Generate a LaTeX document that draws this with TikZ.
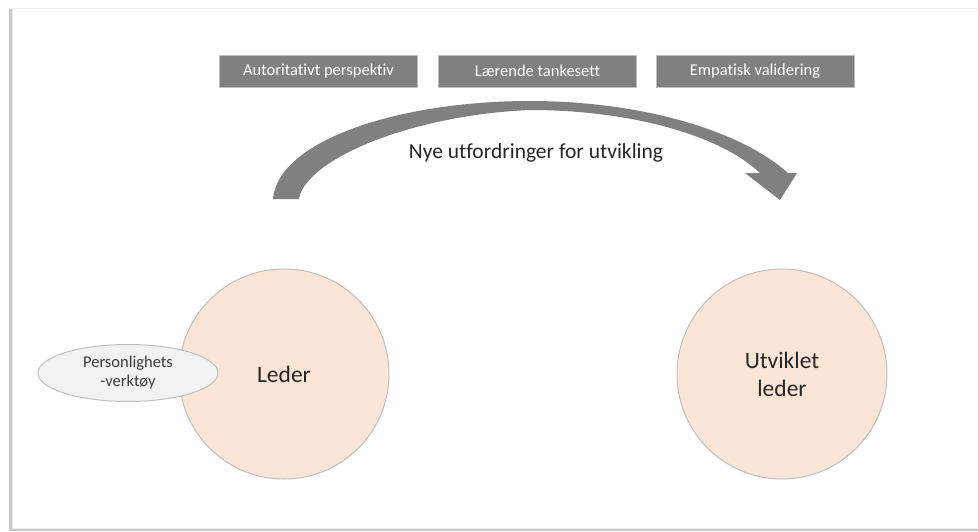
\documentclass[tikz,border=0pt]{standalone}
\usepackage{fontspec}
\setmainfont{Carlito}[Ligatures=NoCommon]
\usetikzlibrary{shapes.geometric}
\definecolor{peach}{HTML}{FBE5D6}
\definecolor{rim}{HTML}{BFBFBF}
\definecolor{boxgray}{HTML}{808080}
\definecolor{pale}{HTML}{F2F2F2}
\definecolor{ink}{HTML}{262626}
\tikzset{
  tag/.style={rectangle, fill=boxgray, draw=rim, line width=0.6pt,
    minimum width=198pt, minimum height=32pt, inner sep=0pt,
    text=white, font=\fontsize{16.5}{18}\selectfont},
  person/.style={circle, fill=peach, draw=rim, line width=1pt,
    minimum size=210pt, inner sep=0pt, align=center, text=ink,
    font=\fontsize{23.5}{28}\selectfont},
  toolbox/.style={ellipse, fill=pale, draw=rim, line width=1pt,
    minimum width=180pt, minimum height=57pt, inner sep=0pt, align=center,
    text=ink!90, font=\fontsize{16.5}{19}\selectfont},
  curvedarrow/.style={fill=boxgray}
}
\begin{document}
\begin{tikzpicture}[x=1pt,y=-1pt]
\useasboundingbox (0,0) rectangle (978,531);
\fill[white] (0,0) rectangle (978,531);
% slide with a soft shadow
\fill[black!22] (9,9) rectangle (990,531);
\fill[white, draw=black!7, line width=1pt] (12,8) rectangle (990,528);

% the three perspectives
\node[tag] (auth) at (318.5,71) {Autoritativt perspektiv};
\node[tag] (learn) at (537.5,71) {Lærende tankesett};
\node[tag] (empat) at (755,71) {Empatisk validering};

% curved development arrow
\coordinate (outbase) at (273,199);
\coordinate (inbase) at (299,199);
\coordinate (wingL) at (745,173);
\coordinate (wingR) at (797,173);
\coordinate (tip) at (780,200);
\fill[curvedarrow] (outbase) .. controls (278,140) and (400,101) .. (530,101)
  .. controls (640,101) and (740,130) .. (788,173) -- (wingR) -- (tip)
  -- (wingL) -- (760,173)
  .. controls (720,135) and (630,110) .. (530,110)
  .. controls (410,115) and (305,160) .. (inbase) -- cycle;
\node[text=ink, font=\fontsize{21.5}{24}\selectfont] (challenge) at (536,153) {Nye utfordringer for utvikling};

% leaders
\node[person] (leder) at (284,374) {Leder};
\node[person] (dev) at (782,374) {Utviklet\\leder};
\node[toolbox] (tool) at (128,373) {Personlighets\\-verktøy};
\end{tikzpicture}
\end{document}
